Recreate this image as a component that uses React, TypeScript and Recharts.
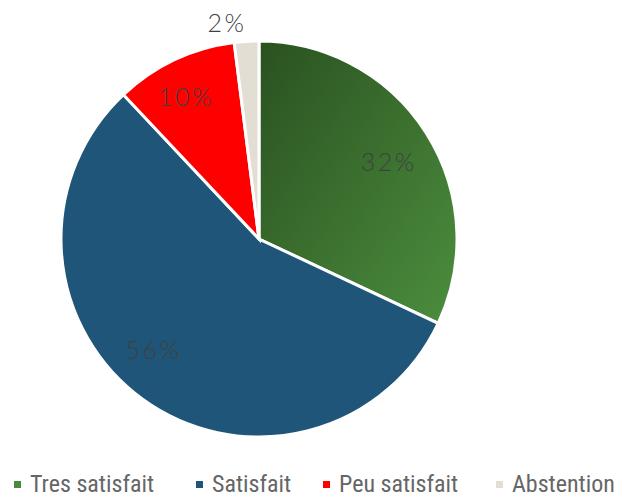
import { PieChart, Pie, Cell } from 'recharts';

const categories = ['Tres satisfait', 'Satisfait', 'Peu satisfait', 'Abstention'];
const shares = [32, 56, 10, 2];
const colors = ['url(#greenGrad)', '#1f5578', '#ff0000', '#e3ded3'];
const legendColors = ['#4a8a3c', '#1f5578', '#ff0000', '#e3ded3'];

const data = categories.map((name, i) => ({ name, value: shares[i] }));

// small label nudges to mimic best-fit placement
const labelNudge = [
  [1, 4],
  [-16, -13],
  [-8, -5],
  [-18, 5],
];

const RADIAN = Math.PI / 180;

function renderLabel(props: any) {
  const { cx, cy, midAngle, outerRadius, value, index } = props;
  const r = value < 5 ? outerRadius + 24 : outerRadius * 0.77;
  const x = cx + r * Math.cos(-midAngle * RADIAN) + labelNudge[index][0];
  const y = cy + r * Math.sin(-midAngle * RADIAN) + labelNudge[index][1];
  return (
    <text
      key={`lbl-${index}`}
      x={x}
      y={y}
      textAnchor="middle"
      dominantBaseline="central"
      fill="#404040"
      fontSize={25}
      fontWeight={300}
      letterSpacing={2.5}
      fontFamily="Lato, 'DejaVu Sans', sans-serif"
    >
      {`${value}%`}
    </text>
  );
}

const legendX = [14, 196, 323, 496];

export default function App() {
  return (
    <div style={{ position: 'absolute', left: 0, top: 0, width: 627, height: 497, background: '#fff' }}>
      <PieChart width={627} height={455} margin={{ top: 0, right: 0, bottom: 0, left: 0 }}>
        <defs>
          <linearGradient id="greenGrad" x1="0" y1="0" x2="1" y2="1">
            <stop offset="0%" stopColor="#2a5120" />
            <stop offset="100%" stopColor="#4c8e3e" />
          </linearGradient>
        </defs>
        <Pie
          data={data}
          dataKey="value"
          nameKey="name"
          cx={259}
          cy={239}
          outerRadius={198}
          startAngle={90}
          endAngle={-270}
          stroke="#ffffff"
          strokeWidth={3}
          label={renderLabel}
          labelLine={false}
          isAnimationActive={false}
        >
          {data.map((d, i) => (
            <Cell key={d.name} fill={colors[i]} />
          ))}
        </Pie>
      </PieChart>
      <svg width={627} height={42} style={{ position: 'absolute', left: 0, top: 455 }}>
        {categories.map((c, i) => (
          <g key={c}>
            <rect x={legendX[i]} y={26} width={7} height={7} fill={legendColors[i]} />
            <text
              x={legendX[i] + 16}
              y={29}
              dominantBaseline="central"
              fill="#666666"
              fontSize={24}
              fontFamily="'Liberation Sans Narrow', 'Roboto Condensed', 'DejaVu Sans Condensed', sans-serif"
            >
              {c}
            </text>
          </g>
        ))}
      </svg>
    </div>
  );
}
